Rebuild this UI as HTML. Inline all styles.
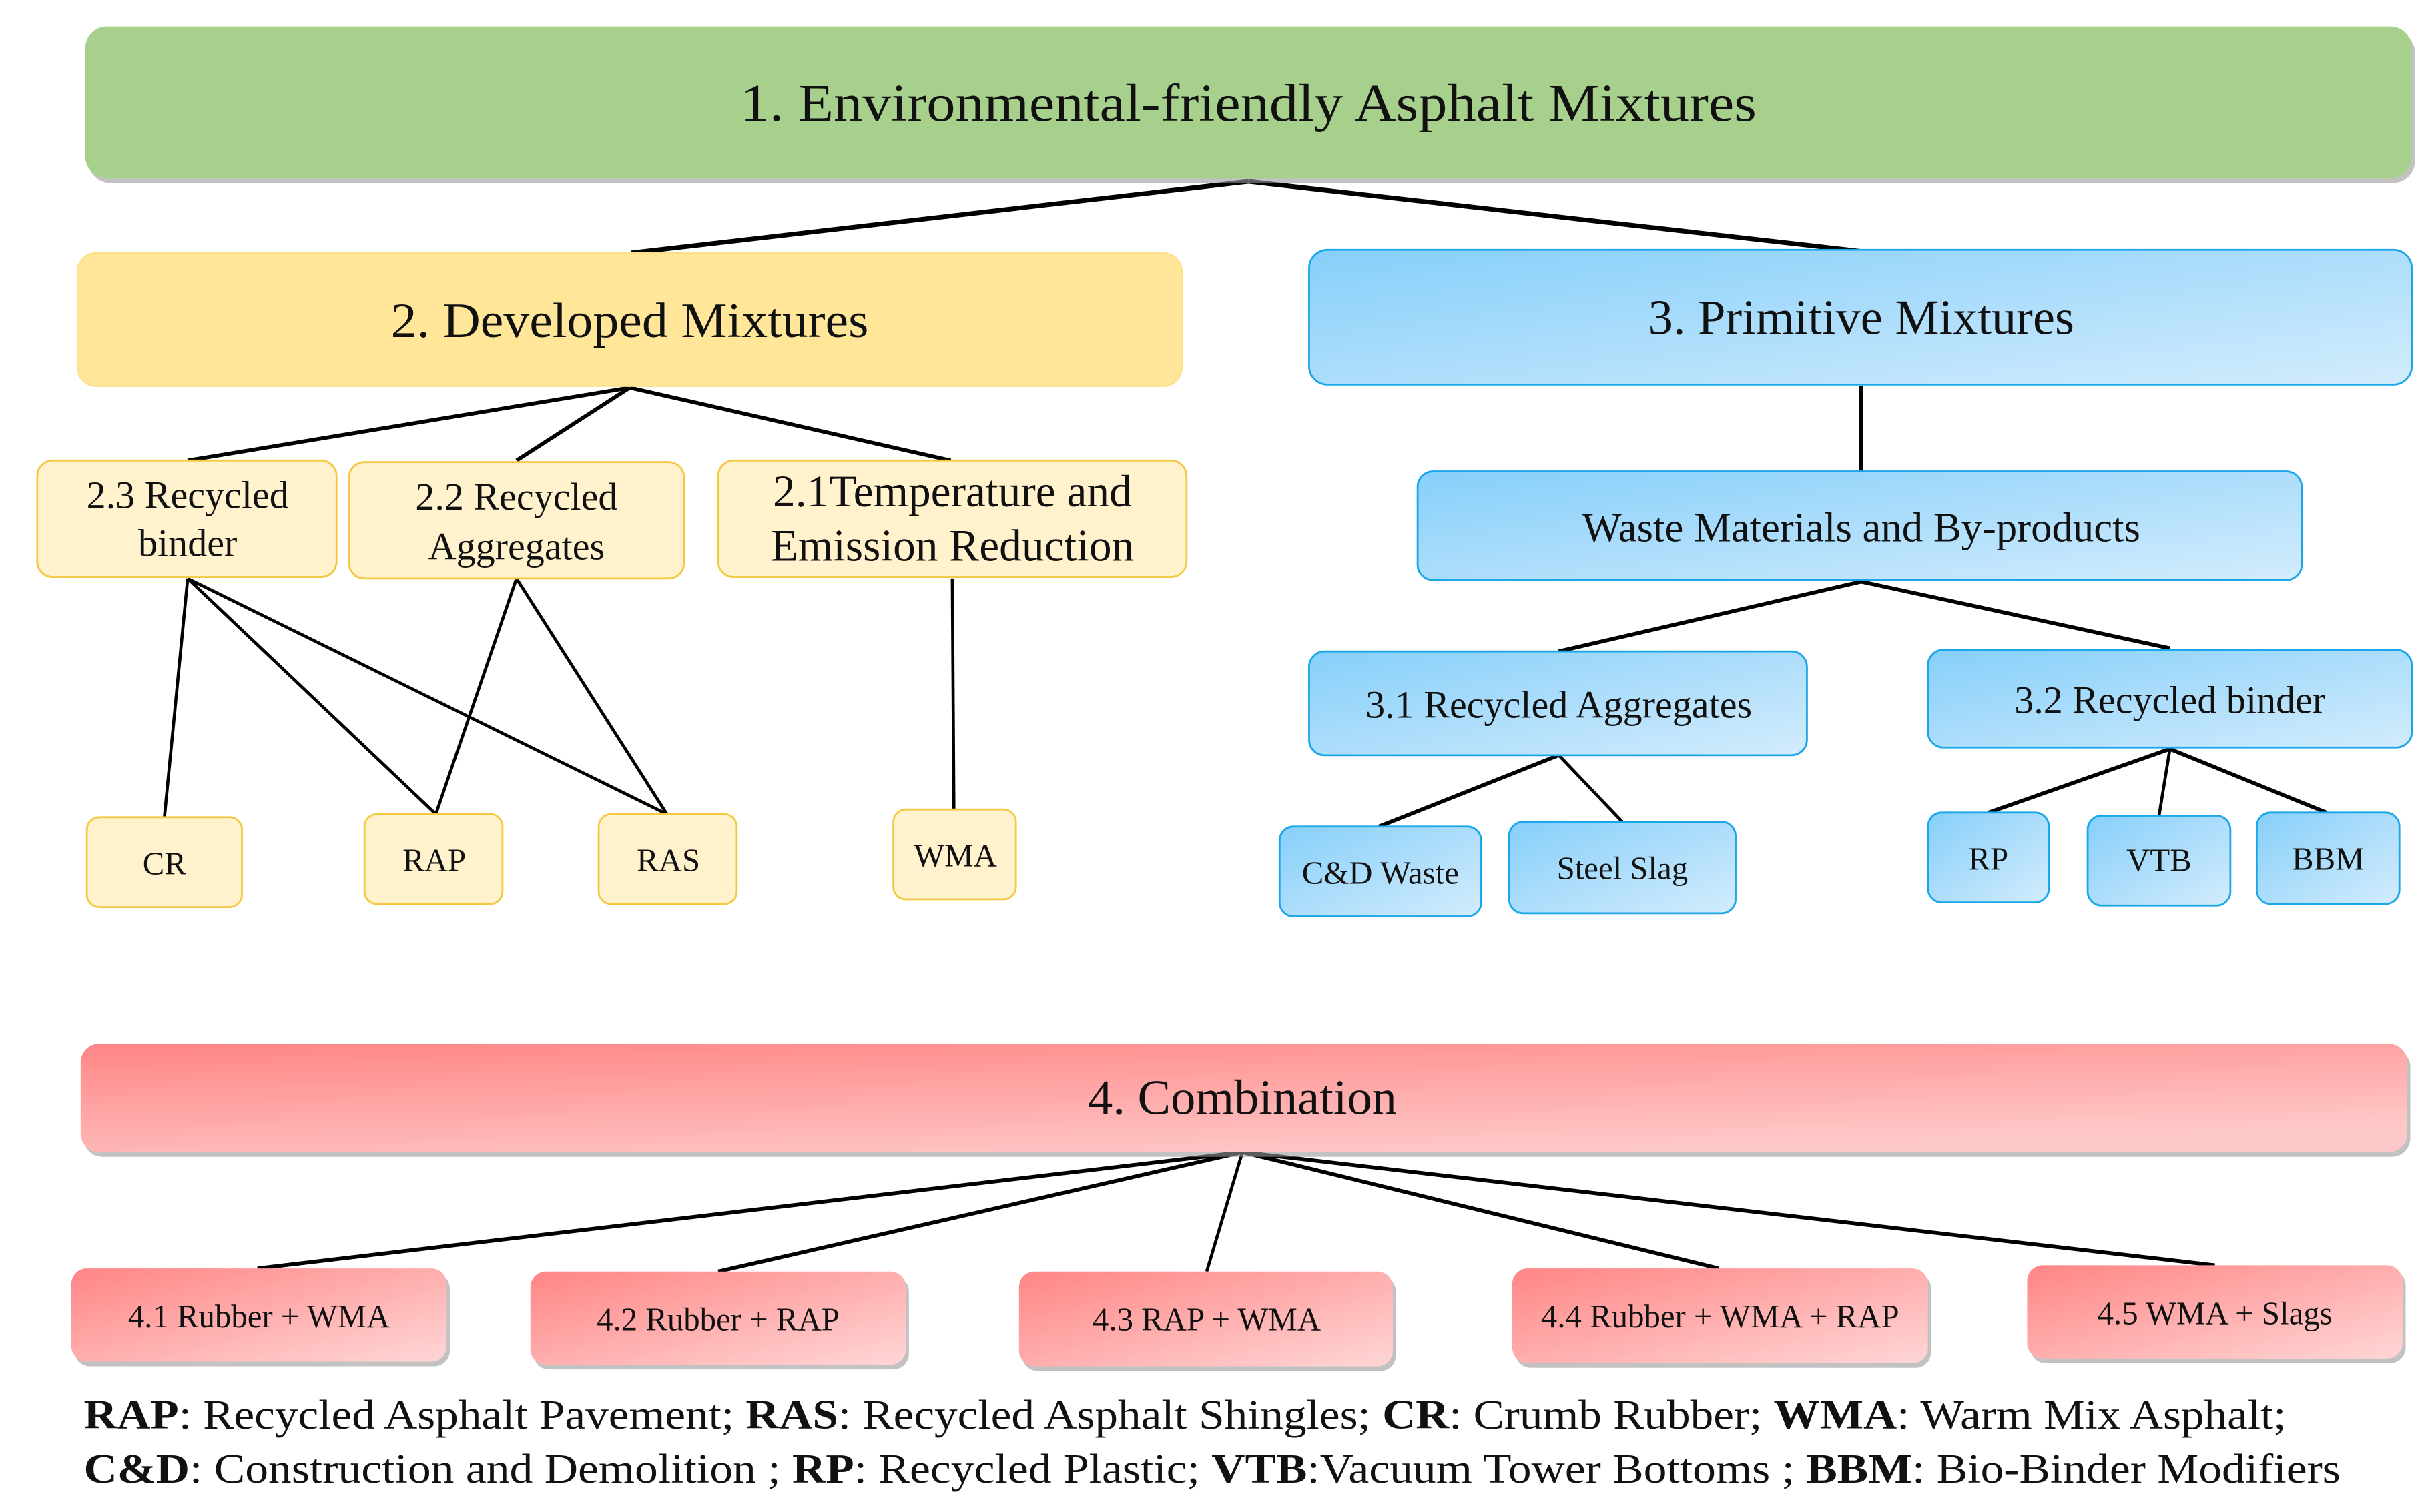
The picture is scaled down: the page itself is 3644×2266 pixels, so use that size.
<!DOCTYPE html>
<html><head><meta charset="utf-8"><style>
html,body{margin:0;padding:0;background:#fff;width:3644px;height:2266px;overflow:hidden}
svg{display:block}
svg text{font-family:'Liberation Serif','Times New Roman',serif;fill:#111;text-anchor:middle;dominant-baseline:middle}
</style></head><body>
<svg width="3644" height="2266" viewBox="0 0 1568 975" xmlns="http://www.w3.org/2000/svg" font-family="'Liberation Serif', 'Times New Roman', serif">
<defs>
<linearGradient id="b" x1="0" y1="0" x2="1" y2="1"><stop offset="0" stop-color="#86cffa"/><stop offset="1" stop-color="#d3ecfc"/></linearGradient>
<linearGradient id="p" x1="0" y1="0" x2="0.6" y2="1"><stop offset="0" stop-color="#ff8585"/><stop offset="1" stop-color="#ffc8c8"/></linearGradient>
<linearGradient id="p2" x1="0" y1="0" x2="1" y2="1"><stop offset="0" stop-color="#ff8585"/><stop offset="1" stop-color="#ffd6d6"/></linearGradient>
</defs>
<g stroke="#000" stroke-width="3" fill="none">
<path d="M805 117L407 163M805 117L1200 162"/>
<path d="M406 250L121 297M406 250L333 297M406 250L613 297" stroke-width="2.5"/>
<path d="M121 373L106 527M121 373L281 525M121 373L430 525M333 373L281 525M333 373L430 525M614 373L615 522" stroke-width="2"/>
<path d="M1200 249L1200 304M1200 375L1005 420M1200 375L1399 418" stroke-width="2.5"/>
<path d="M1005 487L889 533M1399 483L1282 524M1399 483L1500 524" stroke-width="2.5"/>
<path d="M1005 487L1046 530M1399 483L1392 526" stroke-width="2"/>
<path d="M801 743L166 818M801 743L463 820M801 743L1108 818M801 743L1428 816" stroke-width="2.5"/>
<path d="M801 743L778 820" stroke-width="2"/>
</g>
<g fill="#999" opacity="0.6">
<rect x="57" y="20" width="1500" height="98" rx="14"/>
<rect x="54" y="676" width="1500" height="70" rx="12"/>
<rect x="48" y="821" width="242" height="60" rx="10"/>
<rect x="344" y="823" width="242" height="60" rx="10"/>
<rect x="659" y="823" width="241" height="61" rx="10"/>
<rect x="977" y="821" width="268" height="61" rx="10"/>
<rect x="1309" y="819" width="242" height="60" rx="10"/>
</g>
<rect x="55" y="17" width="1500" height="98" rx="14" fill="#a8d08d"/>
<text x="805" y="70" font-size="34" textLength="655" lengthAdjust="spacingAndGlyphs">1. Environmental-friendly Asphalt Mixtures</text>
<g fill="#ffe699" stroke="#ffe08a"><rect x="50" y="163" width="712" height="86" rx="12"/></g>
<text x="406" y="210" font-size="32" textLength="308" lengthAdjust="spacingAndGlyphs">2. Developed Mixtures</text>
<g fill="#fff2cc" stroke="#f5c842" stroke-width="1.2">
<rect x="24" y="297" width="193" height="75" rx="10"/>
<rect x="225" y="298" width="216" height="75" rx="10"/>
<rect x="463" y="297" width="302" height="75" rx="10"/>
<rect x="56" y="527" width="100" height="58" rx="8"/>
<rect x="235" y="525" width="89" height="58" rx="8"/>
<rect x="386" y="525" width="89" height="58" rx="8"/>
<rect x="576" y="522" width="79" height="58" rx="8"/>
</g>
<g font-size="25">
<text x="121" y="322">2.3 Recycled</text><text x="121" y="353">binder</text>
<text x="333" y="323">2.2 Recycled</text><text x="333" y="355">Aggregates</text>
</g>
<g font-size="29"><text x="614" y="320">2.1Temperature and</text><text x="614" y="355">Emission Reduction</text></g>
<g font-size="21"><text x="106" y="559">CR</text><text x="280" y="557">RAP</text><text x="431" y="557">RAS</text><text x="616" y="554">WMA</text></g>
<g fill="url(#b)" stroke="#1aa6e8" stroke-width="1.2">
<rect x="844" y="161" width="711" height="87" rx="12"/>
<rect x="914" y="304" width="570" height="70" rx="10"/>
<rect x="844" y="420" width="321" height="67" rx="10"/>
<rect x="1243" y="419" width="312" height="63" rx="10"/>
<rect x="825" y="533" width="130" height="58" rx="9"/>
<rect x="973" y="530" width="146" height="59" rx="9"/>
<rect x="1243" y="524" width="78" height="58" rx="9"/>
<rect x="1346" y="526" width="92" height="58" rx="9"/>
<rect x="1455" y="524" width="92" height="59" rx="9"/>
</g>
<text x="1200" y="208" font-size="32">3. Primitive Mixtures</text>
<text x="1200" y="343" font-size="27">Waste Materials and By-products</text>
<text x="1005" y="457" font-size="25">3.1 Recycled Aggregates</text>
<text x="1399" y="454" font-size="25">3.2 Recycled binder</text>
<g font-size="21"><text x="890" y="565">C&amp;D Waste</text><text x="1046" y="562">Steel Slag</text><text x="1282" y="556">RP</text><text x="1392" y="557">VTB</text><text x="1501" y="556">BBM</text></g>
<rect x="52" y="673" width="1500" height="70" rx="12" fill="url(#p)"/>
<text x="801" y="711" font-size="32">4. Combination</text>
<g fill="url(#p2)">
<rect x="46" y="818" width="242" height="60" rx="10"/>
<rect x="342" y="820" width="242" height="60" rx="10"/>
<rect x="657" y="820" width="241" height="61" rx="10"/>
<rect x="975" y="818" width="268" height="61" rx="10"/>
<rect x="1307" y="816" width="242" height="60" rx="10"/>
</g>
<g font-size="21"><text x="167" y="851">4.1 Rubber + WMA</text><text x="463" y="853">4.2 Rubber + RAP</text><text x="778" y="853">4.3 RAP + WMA</text><text x="1109" y="851">4.4 Rubber + WMA + RAP</text><text x="1428" y="849">4.5 WMA + Slags</text></g>
<text x="54" y="915" font-size="27" textLength="1420" lengthAdjust="spacingAndGlyphs" style="text-anchor:start"><tspan font-weight="bold">RAP</tspan>: Recycled Asphalt Pavement; <tspan font-weight="bold">RAS</tspan>: Recycled Asphalt Shingles; <tspan font-weight="bold">CR</tspan>: Crumb Rubber; <tspan font-weight="bold">WMA</tspan>: Warm Mix Asphalt;</text>
<text x="54" y="950" font-size="27" textLength="1455" lengthAdjust="spacingAndGlyphs" style="text-anchor:start"><tspan font-weight="bold">C&amp;D</tspan>: Construction and Demolition ; <tspan font-weight="bold">RP</tspan>: Recycled Plastic; <tspan font-weight="bold">VTB</tspan>:Vacuum Tower Bottoms ;  <tspan font-weight="bold">BBM</tspan>: Bio-Binder Modifiers</text>
</svg>
</body></html>
